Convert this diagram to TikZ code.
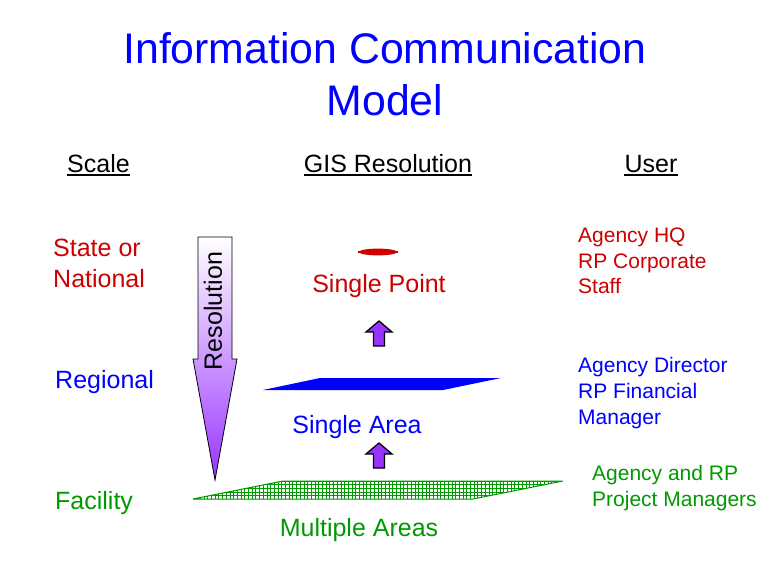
\documentclass[tikz,border=0pt]{standalone}
\usepackage{fontspec}
\setmainfont{Liberation Sans}
\usetikzlibrary{calc}
\definecolor{titleblue}{RGB}{0,0,255}
\definecolor{pointred}{RGB}{204,0,0}
\definecolor{areagreen}{RGB}{0,153,0}
\definecolor{liftpurple}{RGB}{153,51,255}
\def\liftarrow(#1,#2){\draw[line width=1.3pt, fill=liftpurple, line join=miter, shift={(#1,#2)}] (-5.5,0) -- (-5.5,-14) -- (-13,-14) -- (0,-25) -- (13,-14) -- (5.5,-14) -- (5.5,0) -- cycle;}

\begin{document}
\begin{tikzpicture}[x=1pt, y=-1pt,
	big/.style={font=\fontsize{25}{31}\selectfont, inner sep=0pt},
	user/.style={font=\fontsize{21}{25.8}\selectfont, inner sep=0pt, align=left, anchor=north west},
	hdrline/.style={line width=1.4pt}]
		%%%%% START %%%%%
		
		\fill[white] (0,0) rectangle (768,576);
		\useasboundingbox (0,0) rectangle (768,576);
		
		\node[titleblue, font=\fontsize{42.8}{50}\selectfont, anchor=base] (title1) at (385,63.5) {Information Communication};
		\node[titleblue, font=\fontsize{42.8}{50}\selectfont, anchor=base] (title2) at (385,115) {Model};
		
		\node[big, anchor=base west] (scale) at (67,172) {Scale};
		\node[big, anchor=base] (gis) at (388,172) {GIS Resolution};
		\node[big, anchor=base] (user) at (651,172) {User};
		\draw[hdrline] ([yshift=-3pt]scale.base west) -- ([yshift=-3pt]scale.base east);
		\draw[hdrline] ([yshift=-3pt]gis.base west) -- ([yshift=-3pt]gis.base east);
		\draw[hdrline] ([yshift=-3pt]user.base west) -- ([yshift=-3pt]user.base east);
		
		\node[big, pointred, align=left, anchor=north west] (state) at (53,238.5) {State or\\National};
		\node[big, titleblue, anchor=base west] (regional) at (55,388) {Regional};
		\node[big, areagreen, anchor=base west] (facility) at (55,509) {Facility};
		
		\shade[top color=white, bottom color=liftpurple, draw=black, line width=0.8pt] (198,237) -- (232,237) -- (232,359) -- (237,359) -- (215,480) -- (193,359) -- (198,359) -- cycle;
		\node[big, rotate=90] (resolution) at (213,311) {Resolution};
		
		\fill[pointred] (378,252) ellipse (19 and 3.4);
		\draw[pointred, line width=1.8pt] (358,252) -- (398,252);
		\node[big, pointred, anchor=base] (point) at (379,292) {Single Point};
		\liftarrow(379,346)
		
		\fill[titleblue] (263,390) -- (320,378) -- (501,378) -- (443,390) -- cycle;
		\node[big, titleblue, anchor=base] (area) at (357,433) {Single Area};
		\liftarrow(379,468)
		
		\begin{scope}
			\clip (193,499) -- (283,481) -- (563,481) -- (473,499) -- cycle;
			\foreach \gx in {193,196.7,...,566} \draw[areagreen, line width=0.9pt] (\gx,478) -- (\gx,502);
			\foreach \gy in {481,484.7,...,500} \draw[areagreen, line width=0.9pt] (190,\gy) -- (566,\gy);
		\end{scope}
		\draw[areagreen, line width=1pt] (193,499) -- (283,481) -- (563,481) -- (473,499) -- cycle;
		\node[big, areagreen, anchor=base] (areas) at (359,536) {Multiple Areas};
		
		\node[user, pointred] (hq) at (578,227.5) {Agency HQ\\RP Corporate\\Staff};
		\node[user, titleblue] (director) at (578,357.5) {Agency Director\\RP Financial\\Manager};
		\node[user, areagreen] (managers) at (592,465.5) {Agency and RP\\Project Managers};
		
		%%%%% END %%%%%
\end{tikzpicture}
\end{document}
